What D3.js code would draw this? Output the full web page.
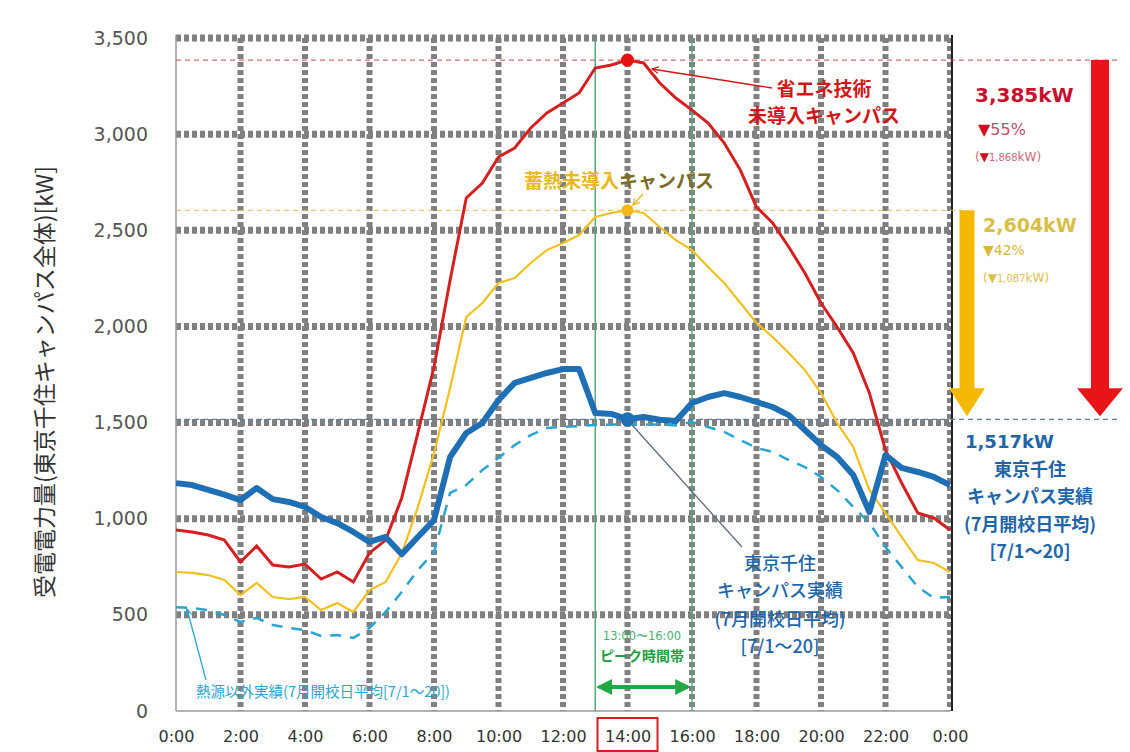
<!DOCTYPE html>
<html>
<head>
<meta charset="utf-8">
<script src="https://cdn.jsdelivr.net/npm/d3@7"></script>
<style>
  body { margin: 0; background: #fff; }
  svg { display: block; }
  .jp { font-family: "Noto Sans CJK JP", sans-serif; }
  .num { font-family: "DejaVu Sans", sans-serif; }
</style>
</head>
<body>
<svg id="chart" width="1130" height="752"></svg>
<script>
// half-hour steps, 0:00 .. 24:00
const hours = d3.range(0, 24.5, 0.5);

// 省エネ技術未導入キャンパス
const redValues = [941, 931, 915, 889, 775, 858, 759, 749, 764, 686, 723, 671, 822, 889, 1108, 1446, 1789, 2241, 2668, 2746,
  2881, 2928, 3032, 3110, 3162, 3214, 3344, 3360, 3385, 3370, 3266, 3188, 3125, 3058, 2954, 2813, 2621, 2538, 2413, 2278,
  2122, 1997, 1862, 1654, 1357, 1186, 1030, 1004, 941];
// 蓄熱未導入キャンパス
const yellowValues = [723, 718, 707, 681, 603, 666, 593, 582, 593, 525, 562, 515, 629, 671, 820, 1060, 1340, 1680, 2049, 2122,
  2226, 2252, 2330, 2397, 2434, 2475, 2569, 2590, 2604, 2590, 2517, 2449, 2397, 2309, 2226, 2122, 2018, 1945, 1862, 1773,
  1654, 1498, 1373, 1150, 1030, 905, 785, 770, 723];
// 東京千住キャンパス実績
const blueValues = [1185, 1175, 1150, 1125, 1097, 1160, 1102, 1087, 1061, 1009, 977, 931, 879, 905, 815, 905, 993, 1321, 1446, 1498,
  1617, 1706, 1732, 1758, 1778, 1778, 1550, 1545, 1517, 1529, 1515, 1508, 1602, 1633, 1653, 1633, 1607, 1581, 1539, 1461,
  1383, 1321, 1227, 1035, 1331, 1264, 1243, 1217, 1175];
// 熱源以外実績
const dashedValues = [540, 535, 525, 499, 463, 484, 447, 432, 421, 390, 395, 380, 432, 515, 619, 733, 827, 1134, 1175, 1253,
  1316, 1383, 1435, 1472, 1477, 1482, 1487, 1490, 1490, 1490, 1490, 1485, 1503, 1477, 1451, 1409, 1368, 1347, 1305, 1269,
  1217, 1149, 1061, 978, 853, 749, 645, 588, 593];

const xTicks = [0, 2, 4, 6, 8, 10, 12, 14, 16, 18, 20, 22, 24];
const xTickLabels = ["0:00", "2:00", "4:00", "6:00", "8:00", "10:00", "12:00", "14:00", "16:00", "18:00", "20:00", "22:00", "0:00"];
const yTicks = [0, 500, 1000, 1500, 2000, 2500, 3000, 3500];

const peakHour = 14;
const peakRed = 3385, peakYellow = 2604, peakBlue = 1517;
const peakStart = 13, peakEnd = 16;

const svg = d3.select("#chart");
const x = d3.scaleLinear().domain([0, 24]).range([176, 950]);
const y = d3.scaleLinear().domain([0, 3500]).range([711, 38]);

// arrow markers
const defs = svg.append("defs");
function arrowHead(id, color) {
  defs.append("marker").attr("id", id)
    .attr("viewBox", "0 0 10 10").attr("refX", 9).attr("refY", 5)
    .attr("markerWidth", 8).attr("markerHeight", 8).attr("orient", "auto-start-reverse")
    .attr("markerUnits", "userSpaceOnUse")
    .append("path").attr("d", "M1,1 L9,5 L1,9").attr("fill", "none")
    .attr("stroke", color).attr("stroke-width", 1.5);
}
arrowHead("arRed", "#d01818");
arrowHead("arYel", "#e8b820");
arrowHead("arCyan", "#2aa5cf");
defs.append("marker").attr("id", "arGreen")
  .attr("viewBox", "0 0 10 10").attr("refX", 8).attr("refY", 5)
  .attr("markerWidth", 4).attr("markerHeight", 4).attr("orient", "auto-start-reverse")
  .append("path").attr("d", "M0,0 L10,5 L0,10 Z").attr("fill", "#22a845");

// grid
svg.append("g").selectAll("line").data(yTicks.filter(d => d > 0)).join("line")
  .attr("x1", x(0)).attr("x2", x(24)).attr("y1", d => y(d)).attr("y2", d => y(d))
  .attr("stroke", "#808080").attr("stroke-width", 7).attr("stroke-dasharray", "5,3");
svg.append("g").selectAll("line").data(xTicks.filter(d => d > 0)).join("line")
  .attr("x1", d => x(d)).attr("x2", d => x(d)).attr("y1", y(3500)).attr("y2", y(0))
  .attr("stroke", "#808080").attr("stroke-width", 6).attr("stroke-dasharray", "5,3");

// frame
svg.append("line").attr("x1", x(0)).attr("x2", x(0)).attr("y1", y(3500) - 3).attr("y2", y(0))
  .attr("stroke", "#9a9a9a").attr("stroke-width", 1.5);
svg.append("line").attr("x1", x(0)).attr("x2", x(24)).attr("y1", y(0)).attr("y2", y(0))
  .attr("stroke", "#9a9a9a").attr("stroke-width", 1.5);
svg.append("line").attr("x1", x(24) + 2).attr("x2", x(24) + 2).attr("y1", y(3500) - 3).attr("y2", y(0))
  .attr("stroke", "#222").attr("stroke-width", 2);

// peak band green lines
svg.append("g").selectAll("line").data([peakStart, peakEnd]).join("line")
  .attr("x1", d => x(d)).attr("x2", d => x(d)).attr("y1", y(3500)).attr("y2", y(0))
  .attr("stroke", "#5aa882").attr("stroke-width", 1.5);

// reference dashed lines
svg.append("line").attr("x1", x(0)).attr("x2", 1118).attr("y1", y(peakRed)).attr("y2", y(peakRed))
  .attr("stroke", "#d04848").attr("stroke-width", 1).attr("stroke-dasharray", "5,4");
svg.append("line").attr("x1", x(0)).attr("x2", 962).attr("y1", y(peakYellow)).attr("y2", y(peakYellow))
  .attr("stroke", "#e0c040").attr("stroke-width", 1).attr("stroke-dasharray", "5,4");
svg.append("line").attr("x1", x(0)).attr("x2", 1118).attr("y1", y(peakBlue)).attr("y2", y(peakBlue))
  .attr("stroke", "#5a7fa0").attr("stroke-width", 1.2).attr("stroke-dasharray", "5,4");

// series
const line = d3.line().x((d, i) => x(hours[i])).y(d => y(d));
svg.append("path").datum(dashedValues).attr("d", line).attr("fill", "none")
  .attr("stroke", "#2aa5cf").attr("stroke-width", 2.5).attr("stroke-dasharray", "11,9");
svg.append("path").datum(yellowValues).attr("d", line).attr("fill", "none")
  .attr("stroke", "#f0c020").attr("stroke-width", 2.2);
svg.append("path").datum(redValues).attr("d", line).attr("fill", "none")
  .attr("stroke", "#d42020").attr("stroke-width", 3);
svg.append("path").datum(blueValues).attr("d", line).attr("fill", "none")
  .attr("stroke", "#1f6fb5").attr("stroke-width", 6).attr("stroke-linejoin", "round");

// peak markers
svg.append("circle").attr("cx", x(peakHour)).attr("cy", y(peakRed)).attr("r", 6.5).attr("fill", "#e81010");
svg.append("circle").attr("cx", x(peakHour)).attr("cy", y(peakYellow)).attr("r", 6).attr("fill", "#f5b818");
svg.append("circle").attr("cx", x(peakHour)).attr("cy", y(peakBlue)).attr("r", 7).attr("fill", "#1f6fb5");

// axes
const xAxis = svg.append("g").attr("transform", `translate(0,${y(0)})`)
  .call(d3.axisBottom(x).tickValues(xTicks).tickSize(0).tickPadding(20)
    .tickFormat((d, i) => xTickLabels[i]));
xAxis.select(".domain").remove();
xAxis.selectAll("text").attr("class", "num").attr("font-size", 16).attr("fill", "#333");

const yAxis = svg.append("g").attr("transform", `translate(${x(0)},0)`)
  .call(d3.axisLeft(y).tickValues(yTicks).tickSize(0).tickPadding(28).tickFormat(d3.format(",")));
yAxis.select(".domain").remove();
yAxis.selectAll("text").attr("class", "num").attr("font-size", 19).attr("fill", "#555");

// 14:00 highlight box
svg.append("rect").attr("x", x(peakHour) - 30).attr("y", 718).attr("width", 60).attr("height", 33)
  .attr("fill", "none").attr("stroke", "#d42020").attr("stroke-width", 2);

// y title
svg.append("text").attr("class", "jp")
  .attr("transform", "translate(53,382) rotate(-90)")
  .attr("text-anchor", "middle").attr("font-size", 23).attr("fill", "#333")
  .text("受電電力量(東京千住キャンパス全体)[kW]");

// red annotation
svg.append("line").attr("x1", 772).attr("y1", 88).attr("x2", 652).attr("y2", 69)
  .attr("stroke", "#d01818").attr("stroke-width", 1.3).attr("marker-end", "url(#arRed)");
const redNote = svg.append("text").attr("class", "jp").attr("text-anchor", "middle")
  .attr("font-size", 19).attr("font-weight", "bold").attr("fill", "#d01818");
redNote.append("tspan").attr("x", 824).attr("y", 96).text("省エネ技術");
redNote.append("tspan").attr("x", 824).attr("y", 123).text("未導入キャンパス");

// yellow annotation
const yelNote = svg.append("text").attr("class", "jp").attr("x", 619).attr("y", 188)
  .attr("text-anchor", "middle").attr("font-size", 19).attr("font-weight", "bold");
yelNote.append("tspan").attr("fill", "#e8b820").text("蓄熱未導入");
yelNote.append("tspan").attr("fill", "#7d6c28").text("キャンパス");
svg.append("line").attr("x1", 643).attr("y1", 194).attr("x2", 633).attr("y2", 205)
  .attr("stroke", "#e8b820").attr("stroke-width", 1.3).attr("marker-end", "url(#arYel)");

// blue annotation in the plot
svg.append("line").attr("x1", 742).attr("y1", 547).attr("x2", x(peakHour) + 3).attr("y2", y(peakBlue) + 4)
  .attr("stroke", "#5a6e80").attr("stroke-width", 1.3);
const blueNote = svg.append("text").attr("class", "jp").attr("text-anchor", "middle")
  .attr("font-size", 18).attr("font-weight", "500").attr("fill", "#1f66a8");
[["東京千住", 570], ["キャンパス実績", 597], ["(7月開校日平均)", 626], ["[7/1〜20]", 653]]
  .forEach(([t, yy]) => blueNote.append("tspan").attr("x", 780).attr("y", yy).text(t));

// peak band label
svg.append("text").attr("class", "num").attr("x", 642).attr("y", 640).attr("text-anchor", "middle")
  .attr("font-size", 11.5).attr("fill", "#48b070").text("13:00〜16:00");
svg.append("text").attr("class", "jp").attr("x", 642).attr("y", 661).attr("text-anchor", "middle")
  .attr("font-size", 14).attr("font-weight", "bold").attr("fill", "#22a040").text("ピーク時間帯");
svg.append("line").attr("x1", x(peakStart) + 4).attr("x2", x(peakEnd) - 4).attr("y1", 687).attr("y2", 687)
  .attr("stroke", "#22a845").attr("stroke-width", 4)
  .attr("marker-start", "url(#arGreen)").attr("marker-end", "url(#arGreen)");

// dashed series annotation
svg.append("line").attr("x1", 206).attr("y1", 680).attr("x2", 187).attr("y2", 609)
  .attr("stroke", "#2aa5cf").attr("stroke-width", 1.3).attr("marker-end", "url(#arCyan)");
svg.append("text").attr("class", "jp").attr("x", 196).attr("y", 697)
  .attr("font-size", 14.5).attr("fill", "#2aa5cf").text("熱源以外実績(7月開校日平均[7/1〜20])");

// right side reduction arrows
function bigArrow(cx, top, bottom, bar, head, color) {
  const hh = 28;
  svg.append("path")
    .attr("d", `M${cx - bar / 2},${top} L${cx + bar / 2},${top} L${cx + bar / 2},${bottom - hh}
      L${cx + head / 2},${bottom - hh} L${cx},${bottom} L${cx - head / 2},${bottom - hh}
      L${cx - bar / 2},${bottom - hh} Z`)
    .attr("fill", color);
}
bigArrow(1100, y(peakRed), y(peakBlue) - 3, 18, 46, "#e8141a");
bigArrow(967, y(peakYellow), y(peakBlue) - 3, 15, 36, "#f5b800");

// right side texts
svg.append("text").attr("class", "num").attr("x", 975).attr("y", 102)
  .attr("font-size", 20).attr("font-weight", "bold").attr("fill", "#c8102e").text("3,385kW");
const r2 = svg.append("text").attr("class", "num").attr("x", 978).attr("y", 135).attr("font-size", 16);
r2.append("tspan").attr("fill", "#d01020").text("▼");
r2.append("tspan").attr("fill", "#c0506a").text("55%");
const r3 = svg.append("text").attr("class", "num").attr("x", 975).attr("y", 161).attr("font-size", 12).attr("fill", "#c86a7a");
r3.append("tspan").text("(");
r3.append("tspan").attr("fill", "#d01020").text("▼");
r3.append("tspan").attr("font-size", 10).text("1,868");
r3.append("tspan").text("kW)");

svg.append("text").attr("class", "num").attr("x", 983).attr("y", 232)
  .attr("font-size", 19).attr("font-weight", "bold").attr("fill", "#d8c048").text("2,604kW");
svg.append("text").attr("class", "num").attr("x", 983).attr("y", 255)
  .attr("font-size", 14).attr("fill", "#d8b838").text("▼42%");
const y3 = svg.append("text").attr("class", "num").attr("x", 983).attr("y", 282).attr("font-size", 12).attr("fill", "#e0c050");
y3.append("tspan").text("(▼");
y3.append("tspan").attr("font-size", 10).text("1,087");
y3.append("tspan").text("kW)");

svg.append("text").attr("class", "num").attr("x", 965).attr("y", 448)
  .attr("font-size", 18).attr("font-weight", "bold").attr("fill", "#1f66a8").text("1,517kW");
const rightNote = svg.append("text").attr("class", "jp").attr("text-anchor", "middle")
  .attr("font-size", 18).attr("font-weight", "bold").attr("fill", "#1f66a8");
[["東京千住", 476], ["キャンパス実績", 503], ["(7月開校日平均)", 531], ["[7/1〜20]", 558]]
  .forEach(([t, yy]) => rightNote.append("tspan").attr("x", 1030).attr("y", yy).text(t));
</script>
</body>
</html>
